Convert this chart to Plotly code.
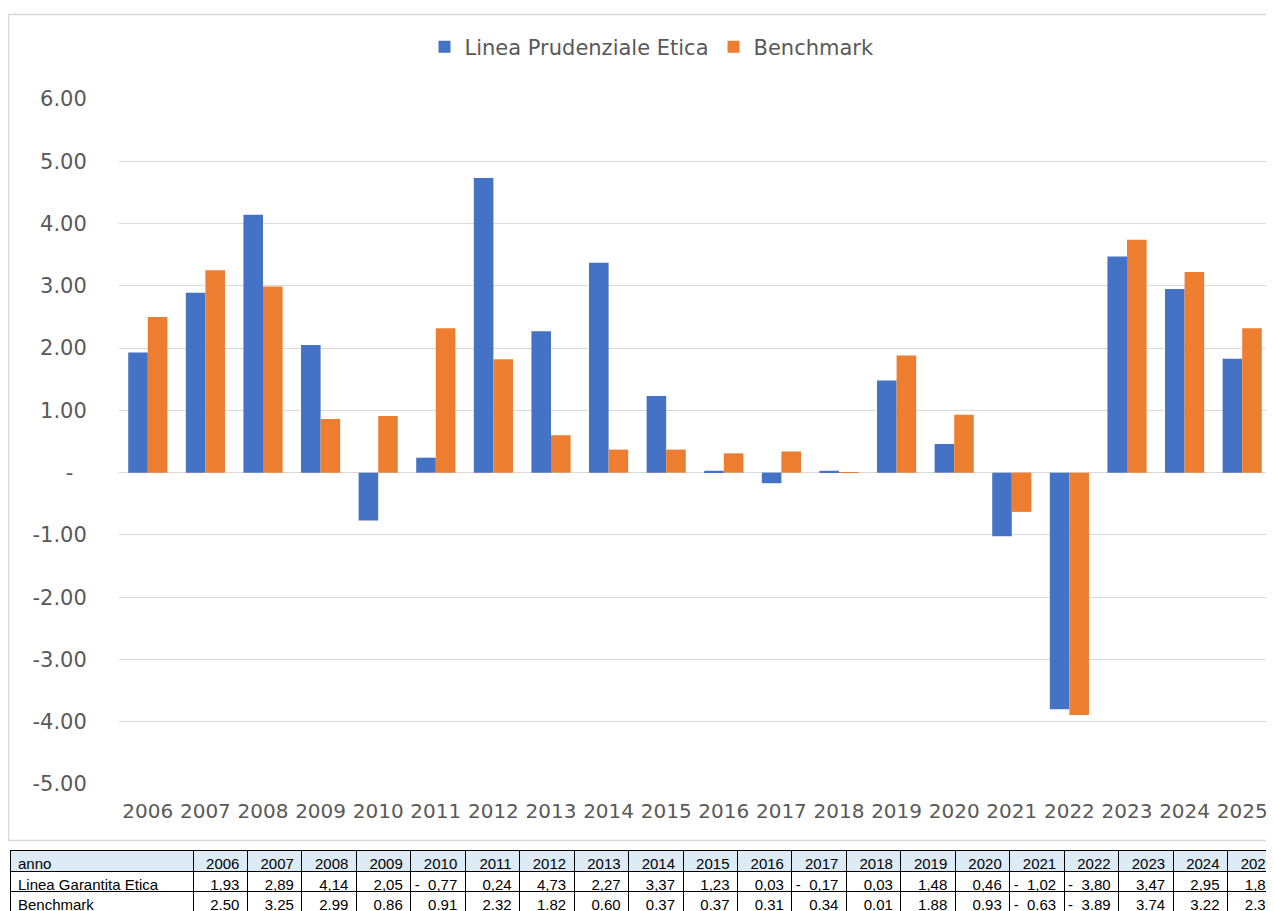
import plotly.graph_objects as go

# ---- data ----
years = [str(y) for y in range(2006, 2026)]
linea = [1.93, 2.89, 4.14, 2.05, -0.77, 0.24, 4.73, 2.27, 3.37, 1.23,
         0.03, -0.17, 0.03, 1.48, 0.46, -1.02, -3.80, 3.47, 2.95, 1.83]
bench = [2.50, 3.25, 2.99, 0.86, 0.91, 2.32, 1.82, 0.60, 0.37, 0.37,
         0.31, 0.34, 0.01, 1.88, 0.93, -0.63, -3.89, 3.74, 3.22, 2.32]
y_tickvals = [6, 5, 4, 3, 2, 1, 0, -1, -2, -3, -4, -5]
y_ticktext = ["6.00", "5.00", "4.00", "3.00", "2.00", "1.00", "-\u00a0\u00a0",
              "-1.00", "-2.00", "-3.00", "-4.00", "-5.00"]
name_linea = "Linea Prudenziale Etica"
name_bench = "Benchmark"
table_row_names = ["Linea Garantita Etica", "Benchmark"]
table_first_header = "anno"

W, H = 1274, 911
OFF = 8  # page body offset
NB = "\u00a0"


def px(X):
    return (X - OFF) / W


def py(Y):
    return 1 - (Y - OFF) / H


def fmt(v, dec):
    s = f"{abs(v):.2f}"
    if dec == ",":
        s = s.replace(".", ",")
    if v < 0:
        return "-" + NB * 2 + s
    return s


fig = go.Figure()
fig.add_trace(go.Bar(x=years, y=linea, name=name_linea, marker_color="#4472C4",
                     marker_line_width=0))
fig.add_trace(go.Bar(x=years, y=bench, name=name_bench, marker_color="#ED7D31",
                     marker_line_width=0))

# table (extends past the right edge of the window, like the cropped reference)
header_vals = [table_first_header] + years
cell_vals = [table_row_names] + [[fmt(a, ","), fmt(b, ".")] for a, b in zip(linea, bench)]
fig.add_trace(go.Table(
    domain=dict(x=[px(10), 1.0], y=[py(911), py(850)]),
    columnwidth=[183] + [54.45] * 20,
    header=dict(values=header_vals, fill_color="#DDEBF7", line=dict(color="black", width=1),
                align=["left"] + ["right"] * 20, height=21,
                font=dict(family="Liberation Sans", size=15, color="black")),
    cells=dict(values=cell_vals, fill_color="white", line=dict(color="black", width=1),
               align=["left"] + ["right"] * 20, height=20,
               font=dict(family="Liberation Sans", size=15, color="black")),
))

fig.update_layout(
    width=W, height=H, autosize=False,
    margin=dict(l=0, r=0, t=0, b=0, pad=0, autoexpand=False),
    paper_bgcolor="white", plot_bgcolor="white",
    barmode="group", bargap=0.32, bargroupgap=0,
    font=dict(family="DejaVu Sans", color="#595959"),
    legend=dict(orientation="h", x=px(652), xanchor="center", y=py(47), yanchor="middle",
                itemwidth=30,
                font=dict(family="DejaVu Sans", size=21, color="#595959"),
                bgcolor="rgba(0,0,0,0)"),
    xaxis=dict(domain=[px(119), px(1271)], type="category", showgrid=False, showline=False,
               automargin=False,
               ticks="outside", ticklen=9, tickcolor="rgba(0,0,0,0)",
               tickfont=dict(family="DejaVu Sans", size=20, color="#595959")),
    yaxis=dict(domain=[py(784), py(99)], range=[-5, 6], automargin=False,
               tickvals=y_tickvals, ticktext=y_ticktext,
               showgrid=True, gridcolor="#D9D9D9", gridwidth=1,
               zeroline=True, zerolinecolor="#D9D9D9", zerolinewidth=1,
               ticks="outside", ticklen=27, tickcolor="rgba(0,0,0,0)",
               tickfont=dict(family="DejaVu Sans", size=21, color="#595959")),
    shapes=[dict(type="rect", xref="paper", yref="paper",
                 x0=px(8.5), x1=1.05, y0=py(840.5), y1=py(14.5),
                 line=dict(color="#D9D9D9", width=1.5), fillcolor="rgba(0,0,0,0)",
                 layer="below")],
)

fig.write_html("out.html")
